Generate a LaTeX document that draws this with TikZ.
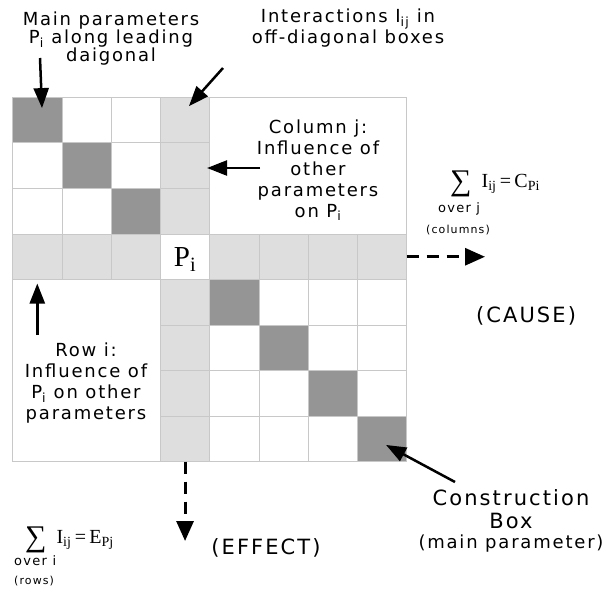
\documentclass[tikz,border=0pt]{standalone}
\usepackage{fontspec}
\newfontfamily\diagfont[LetterSpace=10]{DejaVu Sans}
\newfontfamily\sumfont{Liberation Serif}
\usepackage{tikz}
\usetikzlibrary{
	arrows.meta,
	calc,
	positioning
}
\definecolor{DarkCell}{RGB}{149,149,149}
\definecolor{LightCell}{RGB}{222,222,222}
\definecolor{GridLine}{RGB}{200,200,200}
\newcommand{\bigsum}{\raisebox{-3pt}{\fontsize{30}{30}\selectfont ∑}}

\tikzset{
	cell/.style={draw=GridLine, line width=0.8pt, fill=white, minimum width=49.25pt, minimum height=45.55pt, inner sep=0pt, outer sep=0pt},
	maincell/.style={cell, fill=DarkCell},
	linkcell/.style={cell, fill=LightCell},
	pcell/.style={cell},
	emptycell/.style={cell, draw=none, fill=none},
	lab/.style={font=\diagfont\fontsize{18}{21}\selectfont, align=center, inner sep=0pt},
	tightlab/.style={lab, font=\diagfont\fontsize{18}{18}\selectfont},
	biglab/.style={lab, font=\diagfont\fontsize{21}{23}\selectfont},
	overlab/.style={lab, font=\diagfont\fontsize{13}{14}\selectfont},
	smalllab/.style={lab, font=\diagfont\fontsize{11}{12}\selectfont},
	sumlab/.style={font=\sumfont\fontsize{20}{20}\selectfont, inner sep=0pt, anchor=base west},
	pointer/.style={line width=2.5pt, -{Triangle[length=20pt,width=15pt]}},
	flow/.style={line width=3pt, dash pattern=on 12pt off 8pt, -{Triangle[length=20pt,width=17pt]}}
}

\begin{document}
\begin{tikzpicture}[x=1pt, y=-1pt]
	\useasboundingbox (0,0) rectangle (608,592);
	\foreach \r in {0,...,7}
		\foreach \c in {0,...,7}{
			\def\kind{cell}
			\ifnum\r=\c \def\kind{maincell}\fi
			\ifnum\r=3 \def\kind{linkcell}\fi
			\ifnum\c=3 \def\kind{linkcell}\fi
			\ifnum\r=3 \ifnum\c=3 \def\kind{pcell}\fi\fi
			\ifnum\r<3 \ifnum\c>3 \def\kind{emptycell}\fi\fi
			\ifnum\r>3 \ifnum\c<3 \def\kind{emptycell}\fi\fi
			\node[\kind] (c-\r-\c) at ({37.3+49.25*\c},{120.1+45.55*\r}) {};
		}
	\draw[draw=GridLine, line width=0.8pt] (c-0-0.north west) rectangle (c-7-7.south east);
	\node[anchor=base, font=\sumfont\fontsize{29}{30}\selectfont, inner sep=0pt] (pi) at ([yshift=-9.7pt]c-3-3.center) {P\textsubscript{i}};

	\node[tightlab] (mainlab) at (111,39) {Main parameters\\P\textsubscript{i} along leading\\daigonal};
	\node[tightlab] (linklab) at (348,28) {Interactions I\textsubscript{ij} in\\off-diagonal boxes};
	\node[lab] (collab) at (318,170) {Column j:\\Influence of\\other\\parameters\\on P\textsubscript{i}};
	\node[lab] (rowlab) at (86,383) {Row i:\\Influence of\\P\textsubscript{i} on other\\parameters};
	\node[biglab] (boxlab) at (511,509) {Construction\\Box};
	\node[lab, anchor=base] (boxnote) at (511,548) {(main parameter)};

	\node[sumlab] (causesum) at (450,187) {\bigsum\hspace{10pt}I\textsubscript{ij}\,=\,C\textsubscript{Pi}};
	\node[overlab] (causeover) at (459,209) {over j};
	\node[smalllab] (causecols) at (458,230) {(columns)};
	\node[biglab] (causelab) at (526,316) {(CAUSE)};
	\node[sumlab] (effectsum) at (25,543) {\bigsum\hspace{10pt}I\textsubscript{ij}\,=\,E\textsubscript{Pj}};
	\node[overlab, anchor=west] (effectover) at (14,561) {over i};
	\node[smalllab, anchor=west] (effectrows) at (14,581) {(rows)};
	\node[biglab] (effectlab) at (266,548) {(EFFECT)};

	\coordinate (mainfoot) at (40,58);
	\coordinate (linkfoot) at (223,68);
	\coordinate (colfoot) at (260,168);
	\coordinate (rowfoot) at (37.3,335);
	\coordinate (boxfoot) at (455,482);
	\coordinate (causeend) at (485,256.75);
	\coordinate (effectend) at (185.05,541);
	\draw[pointer] (mainfoot) -- ([shift={(4.7,-12)}]c-0-0.center);
	\draw[pointer] (linkfoot) -- ([shift={(3.9,-14)}]c-0-3.center);
	\draw[pointer] (colfoot) -- ([shift={(22,2.35)}]c-1-3.center);
	\draw[pointer] (rowfoot) -- ([shift={(0,4)}]c-3-0.south);
	\draw[pointer] (boxfoot) -- ([shift={(4,6)}]c-7-7.center);
	\draw[flow] (c-3-7.east) -- (causeend);
	\draw[flow] (c-7-3.south) -- (effectend);
\end{tikzpicture}
\end{document}
